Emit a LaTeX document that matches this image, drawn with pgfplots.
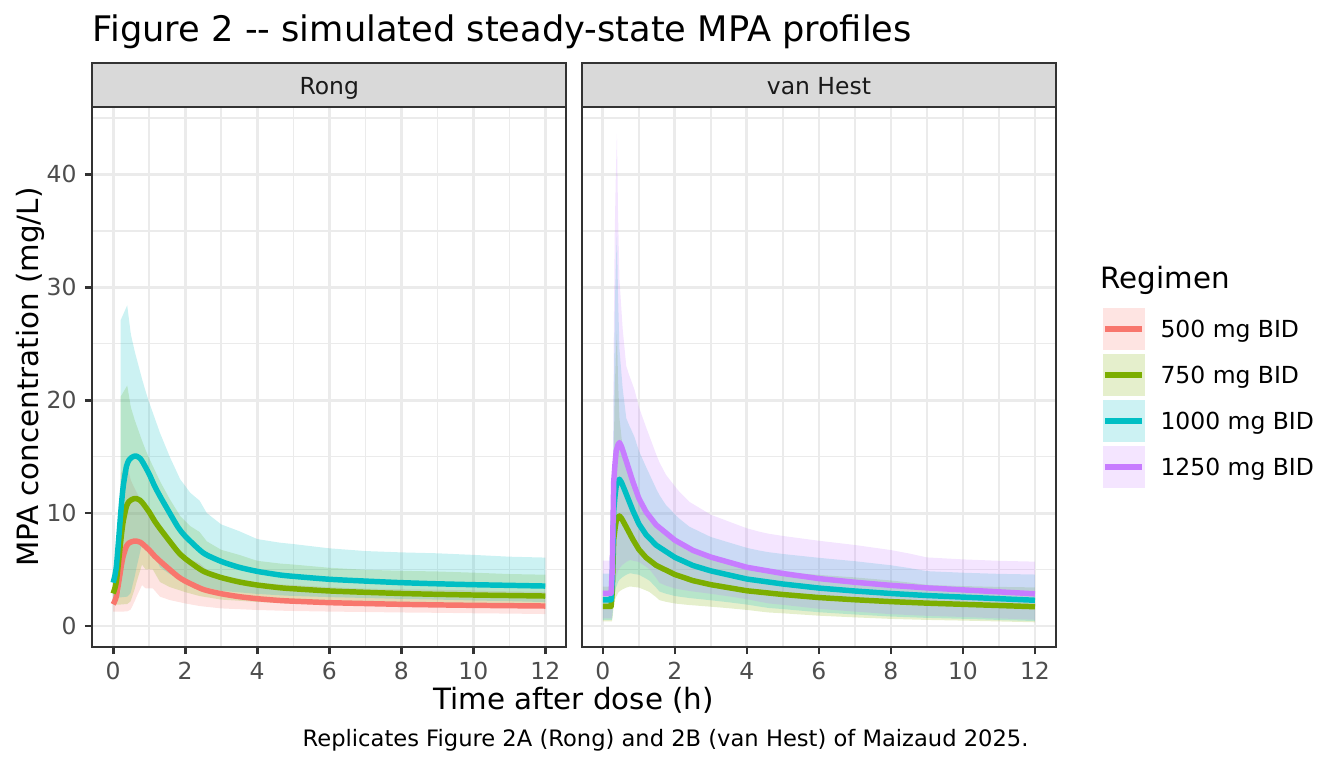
\documentclass[border=0pt]{standalone}
\usepackage{fontspec}
\setmainfont{DejaVu Sans}
\usepackage{pgfplots}
\usepackage{pgfplotstable}
\pgfplotsset{compat=1.18}
\usepgfplotslibrary{fillbetween}

\definecolor{c1}{HTML}{F8766D}
\definecolor{c2}{HTML}{7CAE00}
\definecolor{c3}{HTML}{00BFC4}
\definecolor{c4}{HTML}{C77CFF}
\definecolor{grey92}{HTML}{EBEBEB}
\definecolor{grey85}{HTML}{D9D9D9}
\definecolor{grey30}{HTML}{4D4D4D}
\definecolor{grey20}{HTML}{333333}
\definecolor{grey10}{HTML}{1A1A1A}

\pgfplotstableread{
t lo1 hi1 lo2 hi2 lo3 hi3
0 1.27 2.25 1.905 3.375 2.54 4.5
0.2 1.27 3.0 1.905 4.5 2.54 6.0
0.21 1.27 13.55 1.905 20.325 2.54 27.1
0.39 1.30 14.2 1.95 21.3 2.6 28.4
0.48 1.45 13.05 2.175 19.575 2.9 26.1
0.5 1.56 12.85 2.34 19.275 3.12 25.7
0.6 2.2 12.15 3.3 18.225 4.4 24.3
0.65 2.6 11.85 3.9 17.775 5.2 23.7
0.8 3.63 10.95 5.445 16.425 7.26 21.9
0.9 3.34 10.4 5.01 15.6 6.68 20.8
1.0 3.34 9.9 5.01 14.85 6.68 19.8
1.1 3.34 9.45 5.01 14.175 6.68 18.9
1.3 2.6 8.55 3.9 12.825 5.2 17.1
1.57 2.3 7.5 3.45 11.25 4.6 15.0
1.86 2.1 6.5 3.15 9.75 4.2 13.0
2.0 2.0 6.2 3.0 9.3 4.0 12.4
2.14 1.92 5.9 2.88 8.85 3.84 11.8
2.4 1.77 5.55 2.655 8.325 3.54 11.1
2.6 1.70 5.0 2.55 7.5 3.4 10.0
3.0 1.56 4.5 2.34 6.75 3.12 9.0
3.5 1.49 4.2 2.235 6.3 2.98 8.4
4.0 1.42 3.85 2.13 5.775 2.84 7.7
4.63 1.36 3.69 2.04 5.535 2.72 7.38
5 1.33 3.63 1.995 5.445 2.66 7.26
6 1.28 3.44 1.92 5.16 2.56 6.88
7 1.24 3.32 1.86 4.98 2.48 6.64
8 1.2 3.26 1.8 4.89 2.4 6.52
9 1.17 3.22 1.755 4.83 2.34 6.44
10 1.13 3.15 1.695 4.725 2.26 6.3
11 1.1 3.07 1.65 4.605 2.2 6.14
12 1.06 3.03 1.59 4.545 2.12 6.06
}\rongband

\pgfplotstableread{
t m1 m2 m3
0 1.92 2.88 3.84
0.05 2.25 3.375 4.5
0.09 2.65 3.975 5.3
0.13 3.4 5.1 6.8
0.18 4.4 6.6 8.8
0.23 5.4 8.1 10.8
0.28 6.2 9.3 12.4
0.37 7.08 10.62 14.16
0.44 7.35 11.025 14.7
0.51 7.46 11.19 14.92
0.58 7.52 11.28 15.04
0.65 7.52 11.28 15.04
0.75 7.42 11.13 14.84
0.83 7.23 10.845 14.46
1.0 6.73 10.095 13.46
1.15 6.2 9.3 12.4
1.3 5.75 8.625 11.5
1.57 5.0 7.5 10.0
1.8 4.38 6.57 8.76
2.0 3.98 5.97 7.96
2.5 3.24 4.86 6.48
3.0 2.86 4.29 5.72
3.5 2.6 3.9 5.2
4.0 2.42 3.63 4.84
4.63 2.26 3.39 4.52
5 2.2 3.3 4.4
6 2.07 3.105 4.14
7 1.99 2.985 3.98
8 1.92 2.88 3.84
9 1.87 2.805 3.74
10 1.83 2.745 3.66
11 1.8 2.7 3.6
12 1.77 2.655 3.54
}\rongline

\pgfplotstableread{
t lo2 hi2 lo3 hi3 lo4 hi4
0 0.405 3.48 0.54 4.64 0.675 5.8
0.25 0.405 3.48 0.54 4.64 0.675 5.8
0.27 0.75 3.6 1.0 4.8 1.25 6.0
0.3 1.8 15.0 2.4 20.0 3.0 25.0
0.33 2.25 21.0 3.0 28.0 3.75 35.0
0.36 2.55 24.0 3.4 32.0 4.25 40.0
0.39 2.7 26.16 3.6 34.88 4.5 43.6
0.42 2.925 22.02 3.9 29.36 4.875 36.7
0.46 3.075 18.42 4.1 24.56 5.125 30.7
0.55 3.255 15.78 4.34 21.04 5.425 26.3
0.65 3.405 13.8 4.54 18.4 5.675 23.0
0.74 3.495 13.275 4.66 17.7 5.825 22.125
0.78 3.495 13.08 4.66 17.44 5.825 21.8
0.88 3.45 12.54 4.6 16.72 5.75 20.9
1.0 3.405 11.64 4.54 15.52 5.675 19.4
1.2 3.15 10.56 4.2 14.08 5.25 17.6
1.3 3.0 10.05 4.0 13.4 5.0 16.75
1.48 2.55 9.12 3.4 12.16 4.25 15.2
1.57 2.295 8.7 3.06 11.6 3.825 14.5
1.75 2.145 8.04 2.86 10.72 3.575 13.4
2.0 1.995 7.425 2.66 9.9 3.325 12.375
2.12 1.95 7.14 2.6 9.52 3.25 11.9
2.4 1.86 6.6 2.48 8.8 3.1 11.0
3.0 1.71 5.91 2.28 7.88 2.85 9.85
3.5 1.575 5.55 2.1 7.4 2.625 9.25
4.0 1.425 5.19 1.9 6.92 2.375 8.65
4.35 1.29 5.01 1.72 6.68 2.15 8.35
4.6 1.2 4.905 1.6 6.54 2.0 8.175
5 1.125 4.785 1.5 6.38 1.875 7.975
6 0.915 4.53 1.22 6.04 1.525 7.55
7 0.765 4.305 1.02 5.74 1.275 7.175
8 0.63 4.035 0.84 5.38 1.05 6.725
8.5 0.585 3.855 0.78 5.14 0.975 6.425
9 0.54 3.645 0.72 4.86 0.9 6.075
10 0.48 3.54 0.64 4.72 0.8 5.9
11 0.405 3.465 0.54 4.62 0.675 5.775
12 0.33 3.42 0.44 4.56 0.55 5.7
}\vhband

\pgfplotstableread{
t m2 m3 m4
0 1.74 2.32 2.9
0.23 1.74 2.32 2.9
0.26 3.0 4.0 5.0
0.3 7.65 10.2 12.75
0.34 8.7 11.6 14.5
0.37 9.3 12.4 15.5
0.42 9.63 12.84 16.05
0.46 9.75 13.0 16.25
0.52 9.525 12.7 15.875
0.65 8.76 11.68 14.6
0.83 7.68 10.24 12.8
1.0 6.78 9.04 11.3
1.2 6.06 8.08 10.1
1.48 5.37 7.16 8.95
2.0 4.56 6.08 7.6
2.5 4.02 5.36 6.7
3.0 3.66 4.88 6.1
4.0 3.12 4.16 5.2
5 2.79 3.72 4.65
6 2.52 3.36 4.2
7 2.325 3.1 3.875
8 2.16 2.88 3.6
9 2.025 2.7 3.375
10 1.92 2.56 3.2
11 1.815 2.42 3.025
12 1.71 2.28 2.85
}\vhline

\pgfplotsset{
  panel/.style={
    scale only axis, width=177.7pt, height=202.27pt,
    anchor=south west,
    xmin=-0.58, xmax=12.58, ymin=-1.83, ymax=45.94,
    xtick={0,2,...,12}, minor xtick={1,3,...,11},
    ytick={0,10,...,40}, minor ytick={5,15,...,45},
    grid=both,
    major grid style={color=grey92, line width=1.07pt},
    minor grid style={color=grey92, line width=0.53pt},
    axis line style={color=grey20, line width=0.8pt},
    tick align=outside, major tick length=2.75pt, minor tick length=0pt,
    major tick style={color=grey20, line width=1pt},
    minor tick style={draw=none},
    tick pos=left,
    ticklabel style={font=\fontsize{8.8}{10}\selectfont, text=grey30},
    xticklabel style={anchor=north, inner sep=0pt, yshift=-2.85pt},
    yticklabel style={anchor=east, inner sep=0pt, xshift=-2.95pt},
    /pgf/number format/assume math mode=true,
  },
  med/.style={line width=2.05pt, line join=round},
}

\begin{document}
\begin{tikzpicture}

% ---- Left panel: Rong
\begin{axis}[panel, at={(34.61pt,45.49pt)}]
\addplot[draw=none, name path=ra1, forget plot] table[x=t, y=lo1]{\rongband};
\addplot[draw=none, name path=rb1, forget plot] table[x=t, y=hi1]{\rongband};
\addplot[fill=c1, fill opacity=0.2, draw=none, forget plot] fill between[of=ra1 and rb1];
\addplot[draw=none, name path=ra2, forget plot] table[x=t, y=lo2]{\rongband};
\addplot[draw=none, name path=rb2, forget plot] table[x=t, y=hi2]{\rongband};
\addplot[fill=c2, fill opacity=0.2, draw=none, forget plot] fill between[of=ra2 and rb2];
\addplot[draw=none, name path=ra3, forget plot] table[x=t, y=lo3]{\rongband};
\addplot[draw=none, name path=rb3, forget plot] table[x=t, y=hi3]{\rongband};
\addplot[fill=c3, fill opacity=0.2, draw=none, forget plot] fill between[of=ra3 and rb3];
\addplot[med, c1, smooth, tension=0.4] table[x=t, y=m1]{\rongline};
\addplot[med, c2, smooth, tension=0.4] table[x=t, y=m2]{\rongline};
\addplot[med, c3, smooth, tension=0.4] table[x=t, y=m3]{\rongline};
\end{axis}

% ---- Right panel: van Hest
\begin{axis}[panel, at={(218.25pt,45.49pt)}, yticklabels={}, ytick style={draw=none}]
\addplot[draw=none, name path=va2, forget plot] table[x=t, y=lo2]{\vhband};
\addplot[draw=none, name path=vb2, forget plot] table[x=t, y=hi2]{\vhband};
\addplot[fill=c2, fill opacity=0.2, draw=none, forget plot] fill between[of=va2 and vb2];
\addplot[draw=none, name path=va3, forget plot] table[x=t, y=lo3]{\vhband};
\addplot[draw=none, name path=vb3, forget plot] table[x=t, y=hi3]{\vhband};
\addplot[fill=c3, fill opacity=0.2, draw=none, forget plot] fill between[of=va3 and vb3];
\addplot[draw=none, name path=va4, forget plot] table[x=t, y=lo4]{\vhband};
\addplot[draw=none, name path=vb4, forget plot] table[x=t, y=hi4]{\vhband};
\addplot[fill=c4, fill opacity=0.2, draw=none, forget plot] fill between[of=va4 and vb4];
\addplot[med, c2] table[x=t, y=m2]{\vhline};
\addplot[med, c3] table[x=t, y=m3]{\vhline};
\addplot[med, c4] table[x=t, y=m4]{\vhline};
\end{axis}

% ---- strips
\draw[fill=grey85, draw=grey20, line width=0.8pt] (34.61pt,247.76pt) rectangle (212.31pt,264.49pt);
\draw[fill=grey85, draw=grey20, line width=0.8pt] (218.25pt,247.76pt) rectangle (395.95pt,264.49pt);
\node[anchor=base, inner sep=0pt, text=grey10, font=\fontsize{8.8}{10}\selectfont] at (123.46pt,252.6pt) {Rong};
\node[anchor=base, inner sep=0pt, text=grey10, font=\fontsize{8.8}{10}\selectfont] at (307.1pt,252.6pt) {van Hest};

% ---- titles
\node[anchor=base west, inner sep=0pt, font=\fontsize{13.2}{15}\selectfont] at (34.6pt,272.4pt) {Figure 2 -{}- simulated steady-state MPA profiles};
\node[anchor=base, inner sep=0pt, font=\fontsize{11}{13}\selectfont] at (215.1pt,21.75pt) {Time after dose (h)};
\node[anchor=base, rotate=90, inner sep=0pt, font=\fontsize{11}{13}\selectfont] at (14.4pt,146.6pt) {MPA concentration (mg/L)};
\node[anchor=base east, inner sep=0pt, font=\fontsize{8.48}{10}\selectfont] at (385.9pt,8.0pt) {Replicates Figure 2A (Rong) and 2B (van Hest) of Maizaud 2025.};

% ---- legend
\node[anchor=base west, inner sep=0pt, font=\fontsize{11}{13}\selectfont] at (412.6pt,179.9pt) {Regimen};
\foreach \c/\y/\lab in {c1/172.6/500 mg BID, c2/155.31/750 mg BID, c3/138.02/1000 mg BID, c4/120.73/1250 mg BID}{
  \fill[\c!20] (413.5pt,\y pt) rectangle (429.36pt,\y pt-15.86pt);
  \draw[\c, line width=2.05pt] (414.4pt,\y pt-7.93pt) -- (428.4pt,\y pt-7.93pt);
  \node[anchor=base west, inner sep=0pt, font=\fontsize{8.8}{10}\selectfont] at (435.0pt,\y pt-11.13pt) {\lab};
}
\pgfresetboundingbox
\path[use as bounding box] (0,0) rectangle (504pt,288pt);
\end{tikzpicture}
\end{document}
